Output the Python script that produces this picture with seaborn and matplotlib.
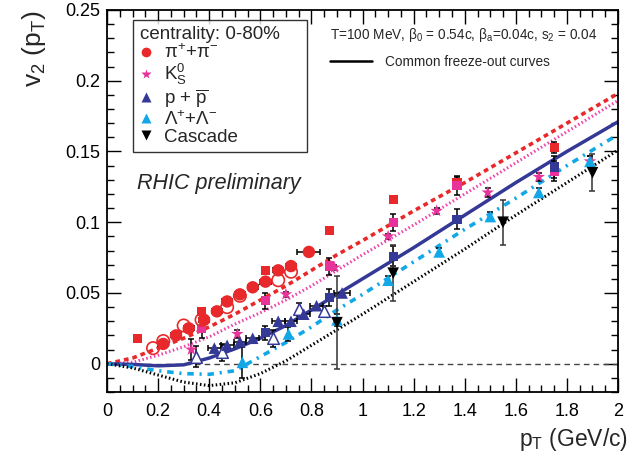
import matplotlib
matplotlib.use("Agg")
import matplotlib.pyplot as plt
from matplotlib.lines import Line2D
from matplotlib.ticker import MultipleLocator
import seaborn as sns
import pandas as pd

# --- data ---
pi_x = [0.22, 0.27, 0.32, 0.38, 0.43, 0.47, 0.52, 0.57, 0.62, 0.67, 0.72, 0.79]
pi_y = [0.014, 0.020, 0.025, 0.031, 0.037, 0.044, 0.049, 0.054, 0.058, 0.066, 0.069, 0.079]
pi_xerr = [0.02, 0.02, 0.02, 0.02, 0.02, 0.02, 0.02, 0.02, 0.02, 0.02, 0.02, 0.045]

pi_open_x = [0.18, 0.22, 0.30, 0.37, 0.47, 0.52, 0.67, 0.72]
pi_open_y = [0.011, 0.016, 0.027, 0.031, 0.040, 0.048, 0.059, 0.065]

pi_sq_x = [0.12, 0.37, 0.62, 0.87, 1.12, 1.37, 1.75]
pi_sq_y = [0.018, 0.037, 0.066, 0.094, 0.116, 0.128, 0.153]
pi_sq_err = [0.001, 0.001, 0.001, 0.002, 0.002, 0.004, 0.004]

k_sq_x = [0.37, 0.62, 0.87, 1.12, 1.37, 1.75]
k_sq_y = [0.025, 0.0445, 0.069, 0.100, 0.126, 0.136]
k_sq_err = [0.007, 0.0055, 0.006, 0.006, 0.007, 0.007]

k_star_x = [0.33, 0.51, 0.70, 0.89, 1.10, 1.29, 1.49, 1.69, 1.89]
k_star_y = [0.010, 0.021, 0.049, 0.068, 0.090, 0.108, 0.121, 0.132, 0.143]
k_star_err = [0.0075, 0.003, 0.002, 0.002, 0.002, 0.002, 0.003, 0.003, 0.004]

p_sq_x = [0.62, 0.87, 1.12, 1.37, 1.75]
p_sq_y = [0.022, 0.047, 0.076, 0.102, 0.139]
p_sq_err = [0.005, 0.006, 0.007, 0.007, 0.008]

p_tri_x = [0.42, 0.47, 0.52, 0.57, 0.67, 0.72, 0.77, 0.82, 0.92]
p_tri_y = [0.011, 0.013, 0.0155, 0.018, 0.030, 0.030, 0.035, 0.041, 0.050]
p_tri_xerr = [0.025, 0.025, 0.025, 0.025, 0.025, 0.025, 0.025, 0.025, 0.03]

p_open_x = [0.35, 0.45, 0.65, 0.75, 0.85]
p_open_y = [0.005, 0.008, 0.018, 0.039, 0.037]
p_open_err = [0.0075, 0.006, 0.006, 0.004, 0.004]

lam_x = [0.53, 0.71, 0.90, 1.10, 1.30, 1.50, 1.69, 1.89]
lam_y = [0.001, 0.021, 0.031, 0.059, 0.079, 0.104, 0.121, 0.143]
lam_err = [0.011, 0.005, 0.004, 0.003, 0.003, 0.003, 0.003, 0.004]

xi_x = [0.90, 1.12, 1.55, 1.90]
xi_y = [0.029, 0.064, 0.100, 0.135]
xi_err = [0.033, 0.020, 0.016, 0.013]

# blast-wave curves
curve_x = [0, 0.1, 0.2, 0.3, 0.4, 0.5, 0.6, 0.7, 0.8, 0.9, 1.0, 1.2, 1.4, 1.6, 1.8, 2.0]
curve_pi = [0, 0.004, 0.011, 0.018, 0.026, 0.035, 0.045, 0.055, 0.066, 0.077, 0.087, 0.108, 0.128, 0.149, 0.170, 0.191]
curve_k = [0, 0.001, 0.006, 0.012, 0.019, 0.028, 0.036, 0.045, 0.055, 0.066, 0.077, 0.098, 0.120, 0.142, 0.164, 0.186]
curve_p = [0, -0.0005, -0.0015, -0.0008, 0.004, 0.0105, 0.018, 0.027, 0.038, 0.049, 0.060, 0.082, 0.105, 0.128, 0.150, 0.171]
curve_lam = [0, -0.002, -0.005, -0.007, -0.0075, -0.005, 0.005, 0.015, 0.026, 0.038, 0.049, 0.072, 0.095, 0.117, 0.140, 0.162]
curve_xi = [0, -0.003, -0.008, -0.013, -0.0155, -0.0135, -0.007, 0.002, 0.013, 0.024, 0.035, 0.058, 0.081, 0.105, 0.128, 0.151]

RED = "#e8282a"
MAG = "#e8339a"
BLUE = "#343996"
CYAN = "#12a8e8"
BLACK = "#000000"

sns.set_theme(style="ticks")
plt.rcParams["font.family"] = ["Liberation Sans", "DejaVu Sans"]
plt.rcParams["mathtext.fontset"] = "custom"
plt.rcParams["mathtext.rm"] = "Liberation Sans"
plt.rcParams["mathtext.it"] = "Liberation Sans:italic"
plt.rcParams["mathtext.default"] = "regular"

fig = plt.figure(figsize=(6.39, 4.67), dpi=100)
ax = fig.add_axes([0.1675, 0.1606, 0.7997, 0.818])

# zero line
ax.axhline(0, color="#444444", lw=1, ls=(0, (4, 3)), zorder=1)

# curves
curves = pd.DataFrame({"x": curve_x, "pi": curve_pi, "k": curve_k, "p": curve_p,
                       "lam": curve_lam, "xi": curve_xi})
sns.lineplot(data=curves, x="x", y="pi", ax=ax, color=RED, lw=2.6, ls=(0, (1.3, 1.1)), sort=False, zorder=2)
sns.lineplot(data=curves, x="x", y="k", ax=ax, color="#ee44aa", lw=2.2, ls=(0, (0.5, 0.8)), sort=False, zorder=2)
sns.lineplot(data=curves, x="x", y="p", ax=ax, color=BLUE, lw=2.5, ls="-", sort=False, zorder=2)
sns.lineplot(data=curves, x="x", y="lam", ax=ax, color=CYAN, lw=2.6, ls=(0, (1.8, 1.6, 0.6, 1.6)), sort=False, zorder=2)
sns.lineplot(data=curves, x="x", y="xi", ax=ax, color=BLACK, lw=2.2, ls=(0, (0.5, 0.8)), sort=False, zorder=2)

# error bars
eb = dict(fmt="none", elinewidth=1.1, capsize=2, capthick=1.1, zorder=3)
ax.errorbar(pi_x, pi_y, xerr=pi_xerr, ecolor="black", **eb)
ax.errorbar(pi_sq_x, pi_sq_y, yerr=pi_sq_err, ecolor="black", **eb)
ax.errorbar(k_sq_x, k_sq_y, yerr=k_sq_err, ecolor="black", **eb)
ax.errorbar(k_star_x, k_star_y, yerr=k_star_err, ecolor="black", **eb)
ax.errorbar(p_sq_x, p_sq_y, yerr=p_sq_err, ecolor="black", **eb)
ax.errorbar(p_tri_x, p_tri_y, xerr=p_tri_xerr, ecolor="black", **eb)
ax.errorbar(p_open_x, p_open_y, yerr=p_open_err, ecolor="black", **eb)
ax.errorbar(lam_x, lam_y, yerr=lam_err, ecolor="black", **eb)
ax.errorbar(xi_x, xi_y, yerr=xi_err, ecolor="#333333", **eb)

# markers
sns.scatterplot(x=pi_sq_x, y=pi_sq_y, ax=ax, marker="s", s=45, color=RED, edgecolor="none", zorder=4)
sns.scatterplot(x=k_sq_x, y=k_sq_y, ax=ax, marker="s", s=45, color=MAG, edgecolor="none", zorder=4)
sns.scatterplot(x=p_sq_x, y=p_sq_y, ax=ax, marker="s", s=45, color=BLUE, edgecolor="none", zorder=4)
sns.scatterplot(x=pi_open_x, y=pi_open_y, ax=ax, marker="o", s=80, facecolors="none", edgecolor=RED, linewidth=1.2, zorder=4)
sns.scatterplot(x=pi_x, y=pi_y, ax=ax, marker="o", s=80, color=RED, edgecolor="none", zorder=5)
sns.scatterplot(x=k_star_x, y=k_star_y, ax=ax, marker="*", s=90, color=MAG, edgecolor="none", zorder=5)
sns.scatterplot(x=p_open_x, y=p_open_y, ax=ax, marker="^", s=70, facecolors="white", edgecolor=BLUE, linewidth=1.1, zorder=5)
sns.scatterplot(x=p_tri_x, y=p_tri_y, ax=ax, marker="^", s=70, color=BLUE, edgecolor="none", zorder=5)
sns.scatterplot(x=lam_x, y=lam_y, ax=ax, marker="^", s=70, color=CYAN, edgecolor="none", zorder=5)
sns.scatterplot(x=xi_x, y=xi_y, ax=ax, marker="v", s=70, color=BLACK, edgecolor="none", zorder=5)

# axes
ax.set_xlim(0, 2)
ax.set_ylim(-0.02, 0.25)
ax.xaxis.set_major_locator(MultipleLocator(0.2))
ax.xaxis.set_minor_locator(MultipleLocator(0.05))
ax.yaxis.set_major_locator(MultipleLocator(0.05))
ax.yaxis.set_minor_locator(MultipleLocator(0.01))
ax.set_xticks([0, 0.2, 0.4, 0.6, 0.8, 1, 1.2, 1.4, 1.6, 1.8, 2])
ax.set_xticklabels(["0", "0.2", "0.4", "0.6", "0.8", "1", "1.2", "1.4", "1.6", "1.8", "2"])
ax.set_yticks([0, 0.05, 0.1, 0.15, 0.2, 0.25])
ax.set_yticklabels(["0", "0.05", "0.1", "0.15", "0.2", "0.25"])
ax.tick_params(which="both", direction="in", top=True, right=True, labelsize=13, width=1, colors="black")
ax.tick_params(which="major", length=10)
ax.tick_params(which="minor", length=5)
ax.tick_params(axis="x", pad=8)
ax.tick_params(axis="y", pad=5)
for sp in ax.spines.values():
    sp.set_linewidth(1.3)
    sp.set_color("black")

ax.set_xlabel("p$_T$ (GeV/c)", fontsize=16.5, loc="right")
ax.xaxis.set_label_coords(1.02, -0.09)
ax.set_ylabel("v$_2$ (p$_T$)", fontsize=19, loc="top")
ax.yaxis.set_label_coords(-0.115, 1.0)

ax.text(0.059, 0.547, "RHIC preliminary", transform=ax.transAxes, fontsize=15.5,
        style="italic", va="center", ha="left")

# legends
handles = [
    Line2D([], [], ls="none", marker="o", ms=7, color=RED, mec="none"),
    Line2D([], [], ls="none", marker="*", ms=7.5, color=MAG, mec="none"),
    Line2D([], [], ls="none", marker="^", ms=7, color=BLUE, mec="none"),
    Line2D([], [], ls="none", marker="^", ms=7, color=CYAN, mec="none"),
    Line2D([], [], ls="none", marker="v", ms=7, color=BLACK, mec="none"),
]
labels = ["π$^{+}$+π$^{-}$", "K$^{0}_{S}$", "p + $\\overline{p}$", "Λ$^{+}$+Λ$^{-}$", "Cascade"]
leg = ax.legend(handles, labels, title="centrality: 0-80%", loc="upper left",
                bbox_to_anchor=(0.051, 0.631, 0.34, 0.343), mode="expand",
                fontsize=13.5, title_fontsize=13.5,
                frameon=True, fancybox=False, edgecolor="black", handlelength=0.7,
                handletextpad=0.6, labelspacing=0.0, borderpad=0.35, borderaxespad=0)
leg.get_frame().set_linewidth(1.0)
leg._legend_box.align = "left"
ax.add_artist(leg)

ax.text(0.436, 0.935, "T=100 MeV, β$_0$ = 0.54c, β$_a$=0.04c, s$_2$ = 0.04",
        transform=ax.transAxes, fontsize=9.8, va="center", ha="left")
leg2 = ax.legend([Line2D([], [], color="black", lw=1.8)], ["Common freeze-out curves"],
                 loc="center left", bbox_to_anchor=(0.425, 0.864), frameon=False,
                 fontsize=9.8, handlelength=3.1, handletextpad=1.0, borderaxespad=0)

fig.savefig("out.png", dpi=100)
